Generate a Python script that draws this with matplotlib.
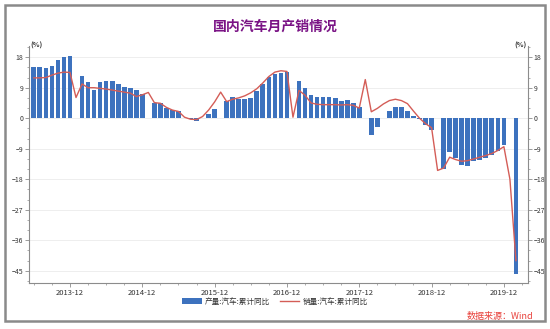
"""Monthly auto production / sales, cumulative YoY (国内汽车月产销情况)."""
import numpy as np
import pandas as pd
import matplotlib
matplotlib.use("Agg")
import matplotlib.pyplot as plt
from matplotlib.patches import Rectangle, Patch
from matplotlib.lines import Line2D
from matplotlib.ticker import MultipleLocator

plt.rcParams["font.family"] = ["Noto Sans CJK SC", "DejaVu Sans"]

# months 2013-06 .. 2020-02
months = pd.period_range("2013-06", "2020-02", freq="M")

# 产量:汽车:累计同比 (no January figure)
production = [
    15.0, 15.0, 14.9, 15.3, 17.1, 18.0, 18.4,                                  # 2013-06..12
    np.nan, 12.5, 10.7, 8.3, 10.8, 10.9, 10.9, 10.0, 9.3, 9.0, 8.3, 7.0,      # 2014
    np.nan, 4.6, 4.6, 3.1, 2.3, 2.1, 0.2, -0.1, -0.8, 0.2, 1.3, 2.8,          # 2015
    np.nan, 5.0, 6.4, 5.6, 5.6, 6.1, 8.0, 10.0, 12.2, 12.9, 13.3, 13.5,       # 2016
    np.nan, 11.0, 9.0, 6.9, 6.3, 6.3, 6.2, 5.9, 5.0, 5.3, 4.5, 3.2,           # 2017
    np.nan, -4.9, -2.6, 0.2, 2.0, 3.4, 3.2, 2.2, 0.8, -0.2, -2.1, -3.5,       # 2018
    np.nan, -15.0, -10.1, -11.6, -13.7, -14.0, -12.6, -12.2, -11.7, -10.8, -9.8, -7.8,  # 2019
    np.nan, -45.8,                                                            # 2020
]

# 销量:汽车:累计同比
sales = [
    11.9, 11.9, 12.0, 12.7, 13.3, 13.6, 13.5,
    6.1, 10.1, 9.0, 9.0, 8.8, 8.6, 8.3, 8.0, 7.7, 7.4, 6.4, 6.9,
    7.6, 4.6, 4.4, 3.2, 2.4, 2.0, 0.3, -0.3, -0.4, 0.5, 2.4, 4.8,
    7.7, 4.9, 5.6, 6.0, 6.6, 7.5, 8.7, 10.4, 12.3, 13.6, 14.0, 13.8,
    0.3, 8.2, 6.8, 4.5, 4.1, 4.0, 4.0, 4.0, 3.9, 4.0, 3.8, 3.0,
    11.4, 1.9, 2.9, 4.2, 5.2, 5.6, 5.2, 4.3, 2.1, 0.0, -1.6, -2.8,
    -15.4, -14.7, -11.5, -12.2, -12.7, -12.5, -12.0, -11.5, -11.0, -10.4, -9.5, -8.4,
    -18.0, -42.0,
]

tick_labels = ["2013-12", "2014-12", "2015-12", "2016-12", "2017-12", "2018-12", "2019-12"]

BAR_COLOR = "#3D72BE"
LINE_COLOR = "#D45D57"
TEXT_COLOR = "#333333"
AXIS_COLOR = "#8C8C8C"

fig = plt.figure(figsize=(5.5, 3.29), dpi=100)
fig.patches.append(Rectangle((5 / 550, 1 - 321 / 329), 540 / 550, 316 / 329,
                             transform=fig.transFigure, fill=False,
                             edgecolor="#8A8A8A", linewidth=1.8))

ax = fig.add_axes([29 / 550, 1 - 283 / 329, 499 / 550, 237 / 329])
x = np.arange(len(months))
ax.bar(x, production, width=0.78, color=BAR_COLOR, zorder=2)
ax.plot(x, sales, color=LINE_COLOR, linewidth=1.0, zorder=3)

ax.set_xlim(-0.8, 82)
ax.set_ylim(-48.6, 21.3)

dec_idx = [i for i, m in enumerate(months) if m.month == 12]
ax.set_xticks(dec_idx)
ax.set_xticklabels(tick_labels)
ax.xaxis.set_minor_locator(MultipleLocator(3))

ax.yaxis.set_major_locator(MultipleLocator(9))
ax.yaxis.set_minor_locator(MultipleLocator(3))
ax.yaxis.set_ticks_position("both")
ax.tick_params(axis="y", which="both", labelright=True, direction="out")
ax.tick_params(axis="both", which="major", length=3, width=0.6,
               color=AXIS_COLOR, labelsize=5.5, labelcolor=TEXT_COLOR, pad=1.5)
ax.tick_params(axis="y", which="major", labelsize=5, pad=1)
ax.tick_params(axis="both", which="minor", length=1.5, width=0.5, color=AXIS_COLOR)

ax.grid(axis="y", which="major", color="#EBEBEB", linewidth=0.6, zorder=0)
ax.set_axisbelow(True)
ax.spines["top"].set_visible(False)
for side in ("left", "right", "bottom"):
    ax.spines[side].set_color(AXIS_COLOR)
    ax.spines[side].set_linewidth(0.8)

fig.text(0.5, 1 - 27 / 329, "国内汽车月产销情况", ha="center", va="center",
         fontsize=10, fontweight="bold", color="#7A1385")
fig.text(30 / 550, 1 - 45 / 329, "(%)", ha="left", va="center",
         fontsize=5, fontweight="bold", color=TEXT_COLOR)
fig.text(527 / 550, 1 - 45 / 329, "(%)", ha="right", va="center",
         fontsize=5, fontweight="bold", color=TEXT_COLOR)

handles = [Patch(facecolor=BAR_COLOR, edgecolor="none"),
           Line2D([], [], color=LINE_COLOR, linewidth=1.0)]
fig.legend(handles, ["产量:汽车:累计同比", "销量:汽车:累计同比"],
           loc="center", bbox_to_anchor=(0.5, 1 - 302 / 329), ncol=2,
           frameon=False, fontsize=5.5, handlelength=2.6, handleheight=0.8,
           columnspacing=1.2, handletextpad=0.4, labelcolor=TEXT_COLOR)

fig.text(533 / 550, 1 - 316 / 329, "数据来源：Wind", ha="right", va="center",
         fontsize=6.5, color="#E8403A", style="italic")

fig.savefig("out.png", dpi=100)
